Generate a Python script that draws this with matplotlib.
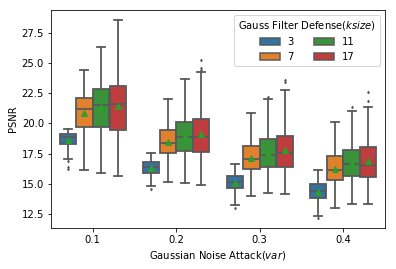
import matplotlib
matplotlib.use("Agg")
import matplotlib.pyplot as plt
from matplotlib.patches import Patch

groups = ["0.1", "0.2", "0.3", "0.4"]
ksizes = ["3", "7", "11", "17"]
colors = ["#3274a1", "#e1812c", "#3a923a", "#c03d3e"]

# stats per ksize, per group: whislo, q1, med, q3, whishi, mean
whislo = {"3": [17.09, 14.86, 13.29, 12.38], "7": [16.16, 15.16, 14.03, 13.04],
          "11": [15.91, 15.08, 14.28, 13.32], "17": [15.69, 14.92, 14.20, 13.32]}
q1 = {"3": [18.30, 15.93, 14.67, 13.84], "7": [19.73, 17.53, 16.26, 15.36],
      "11": [19.73, 17.75, 16.43, 15.69], "17": [19.48, 17.64, 16.43, 15.60]}
med = {"3": [18.85, 16.38, 15.19, 14.40], "7": [21.16, 18.41, 17.09, 16.16],
       "11": [21.54, 18.85, 17.42, 16.65], "17": [21.63, 18.90, 17.58, 16.60]}
q3 = {"3": [19.15, 16.82, 15.69, 14.97], "7": [22.10, 19.48, 18.16, 17.34],
      "11": [22.84, 20.12, 18.74, 17.81], "17": [23.09, 20.34, 18.99, 18.03]}
whishi = {"3": [19.56, 17.58, 16.68, 16.18], "7": [24.41, 21.99, 20.86, 20.12],
          "11": [26.33, 23.66, 22.01, 21.05], "17": [28.53, 24.21, 22.78, 21.33]}
means = {"3": [18.63, 16.30, 15.05, 14.32], "7": [20.83, 18.44, 17.17, 16.21],
         "11": [21.33, 18.96, 17.53, 16.70], "17": [21.44, 19.10, 17.81, 16.90]}
fliers = {"3": [[16.87, 16.43, 16.2], [14.56], [13.04], [12.17]],
          "7": [[], [], [], []],
          "11": [[], [], [22.2], [21.38]],
          "17": [[], [25.2, 24.6, 24.4], [23.6, 23.4], [22.62, 21.82]]}

fig = plt.figure(figsize=(5.5, 269 / 72), dpi=72)
ax = fig.add_axes([51 / 396, 1 - 228 / 269, (385 - 51) / 396, (228 - 10) / 269])

line_c = "#595959"
offsets = [-0.3, -0.1, 0.1, 0.3]
for k, (ks, col) in enumerate(zip(ksizes, colors)):
    stats = []
    for g in range(len(groups)):
        stats.append(dict(med=med[ks][g], q1=q1[ks][g], q3=q3[ks][g],
                          whislo=whislo[ks][g], whishi=whishi[ks][g],
                          mean=means[ks][g], fliers=fliers[ks][g]))
    pos = [g + offsets[k] for g in range(len(groups))]
    ax.bxp(stats, positions=pos, widths=0.195, patch_artist=True, showmeans=True,
           boxprops=dict(facecolor=col, edgecolor=line_c, linewidth=1.8),
           whiskerprops=dict(color=line_c, linewidth=1.8),
           capprops=dict(color=line_c, linewidth=1.8),
           medianprops=dict(color=line_c, linewidth=1.8),
           meanprops=dict(marker="^", markerfacecolor="#2ca02c", markeredgecolor="#2ca02c",
                          markersize=6.5),
           flierprops=dict(marker="d", markersize=1.8, markerfacecolor=line_c,
                           markeredgecolor=line_c))

ax.set_xlim(-0.5, 3.5)
ax.set_ylim(11.37, 29.36)
ax.set_xticks(range(len(groups)))
ax.set_xticklabels(groups)
ax.set_yticks([12.5, 15.0, 17.5, 20.0, 22.5, 25.0, 27.5])
ax.tick_params(labelsize=10)
ax.set_xlabel("Gaussian Noise Attack($var$)", fontsize=10)
ax.set_ylabel("PSNR", fontsize=10)

handles = [Patch(facecolor=c, edgecolor=line_c, linewidth=1.5, label=l)
           for c, l in zip(colors, ksizes)]
ax.legend(handles=handles, title="Gauss Filter Defense($ksize$)", ncol=2,
          loc="upper right", fontsize=10, title_fontsize=10)

fig.savefig("out.png", dpi=72)
